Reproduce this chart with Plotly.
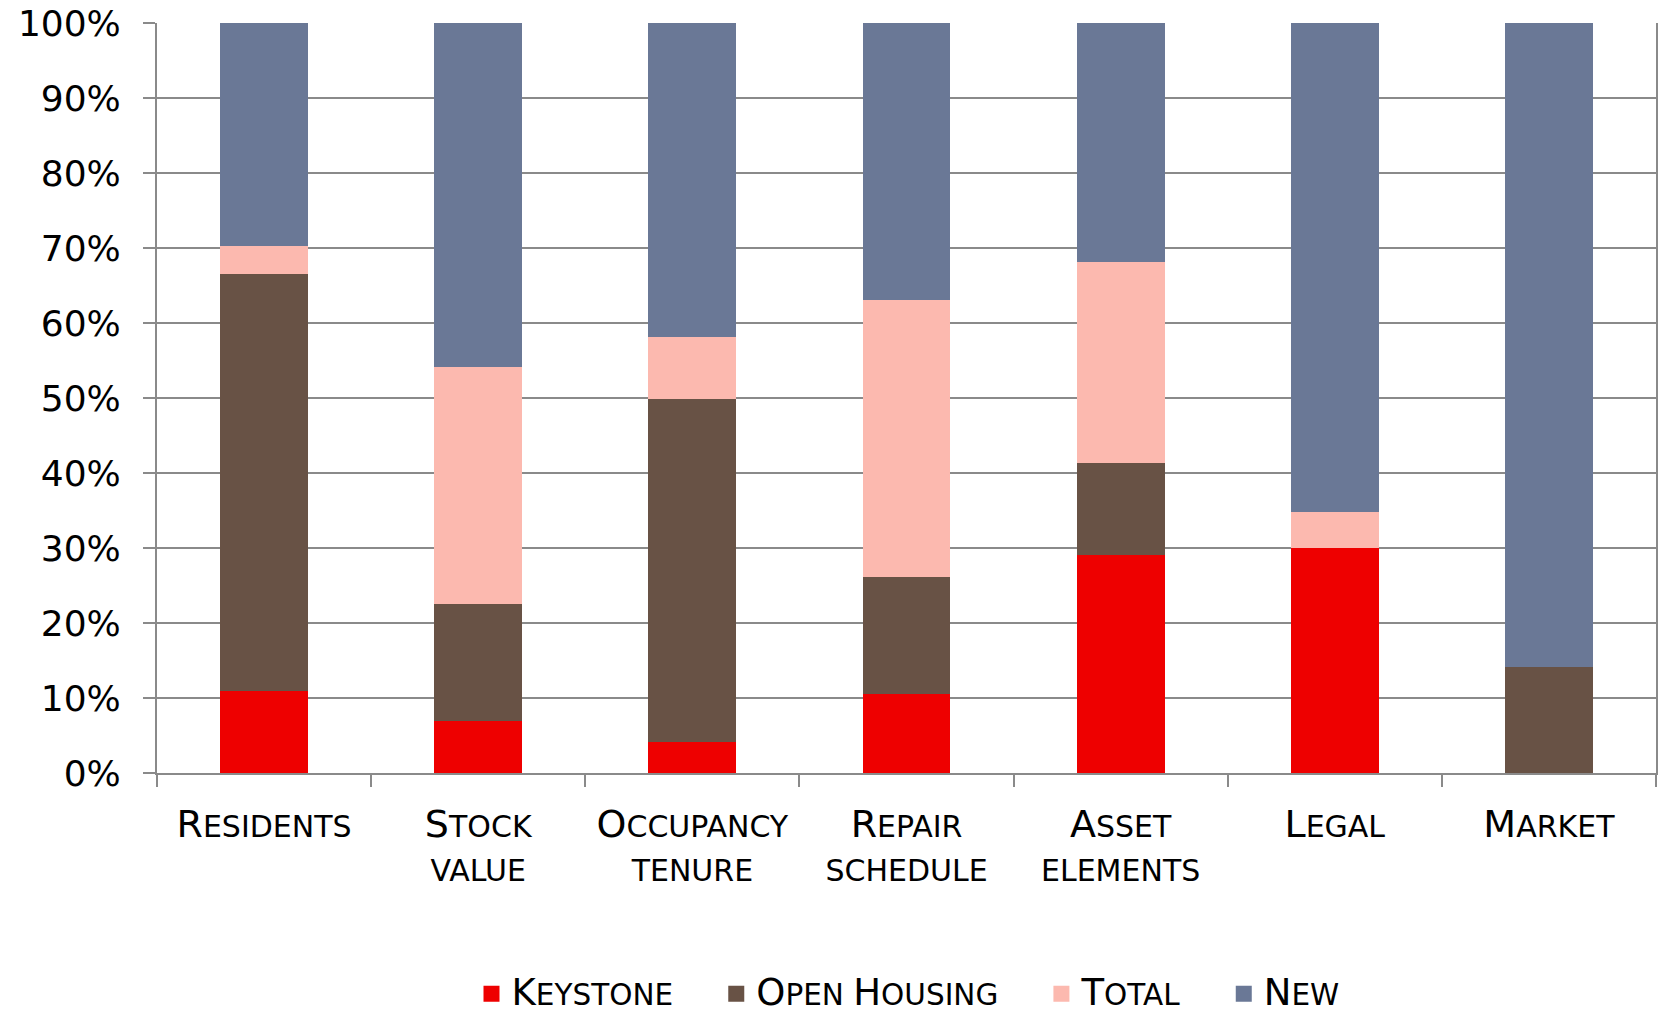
import plotly.graph_objects as go

# ---- data (percent of each category) ----
categories = ["Residents", "Stock value", "Occupancy tenure", "Repair schedule",
              "Asset elements", "Legal", "Market"]
tick_labels = ["Residents", "Stock<br>value", "Occupancy<br>tenure", "Repair<br>schedule",
               "Asset<br>elements", "Legal", "Market"]
series_names = ["Keystone", "Open Housing", "Total", "New"]
keystone = [11.0, 6.9, 4.1, 10.5, 29.1, 30.0, 0.0]
open_housing = [55.5, 15.6, 45.8, 15.7, 12.3, 0.0, 14.2]
total = [3.8, 31.7, 8.3, 36.9, 26.8, 4.8, 0.0]
new = [29.7, 45.8, 41.8, 36.9, 31.8, 65.2, 85.8]
y_tick_values = [0, 10, 20, 30, 40, 50, 60, 70, 80, 90, 100]
y_tick_labels = ["0%", "10%", "20%", "30%", "40%", "50%", "60%", "70%", "80%", "90%", "100%"]

colors = ["#EE0000", "#685245", "#FCB9AF", "#6A7896"]
FONT = "DejaVu Sans"
NBSP = "\u00a0"


def small_caps(text, big, small):
    """Emulate small caps: capitals at `big` px, lowercase as capitals at `small` px."""
    out = []
    for line in text.split("<br>"):
        parts = []
        run = ""
        run_upper = None
        for ch in line:
            is_up = ch.isupper()
            if ch == " ":
                is_up = run_upper if run_upper is not None else False
            if run_upper is None or is_up == run_upper:
                run += ch
                run_upper = is_up
            else:
                parts.append((run, run_upper))
                run, run_upper = ch, is_up
        if run:
            parts.append((run, run_upper))
        s = ""
        for r, up in parts:
            size = big if up else small
            s += f'<span style="font-size:{size}px">{r.upper()}</span>'
        out.append(s)
    return "<br>".join(out)


fig = go.Figure()
values = [keystone, open_housing, total, new]
for name, vals, col in zip(series_names, values, colors):
    fig.add_trace(go.Bar(
        x=categories, y=vals, name=name, marker=dict(color=col, line=dict(width=0)),
        legendgroup=name, showlegend=False,
    ))
for i, (name, col) in enumerate(zip(series_names, colors)):
    label = small_caps(name, 37, 29.5)
    if i < len(series_names) - 1:
        label += f'<span style="font-size:30px">{NBSP * 4}</span>'
    fig.add_trace(go.Scatter(
        x=[None], y=[None], mode="markers", name=label,
        legendgroup=name, showlegend=True,
        marker=dict(symbol="square", size=21, color=col),
    ))

fig.update_layout(
    width=1659, height=1014,
    barmode="stack", bargap=0.59,
    plot_bgcolor="white", paper_bgcolor="white",
    font=dict(family=FONT, color="black"),
    margin=dict(l=157, r=3, t=23, b=241, autoexpand=False),
    legend=dict(
        orientation="h", x=0.501, xanchor="center", y=-0.329, yanchor="bottom",
        font=dict(size=30, family=FONT), itemsizing="trace",
        traceorder="normal", itemclick=False,
    ),
)
fig.update_xaxes(
    tickmode="array", tickvals=categories,
    ticktext=[small_caps(t, 38, 30) for t in tick_labels],
    tickfont=dict(size=34, family=FONT), tickson="boundaries",
    ticks="outside", ticklen=12, tickcolor="#8a8a8a", tickwidth=2,
    ticklabelstandoff=21, automargin=False,
    showline=True, linecolor="#8a8a8a", linewidth=2, showgrid=False,
)
fig.update_yaxes(
    range=[0, 100], tickmode="array", tickvals=y_tick_values, ticktext=y_tick_labels,
    tickfont=dict(size=36, family=FONT), automargin=False,
    ticks="outside", ticklen=12, tickcolor="#8a8a8a", tickwidth=2,
    ticklabelstandoff=15,
    showline=True, linecolor="#8a8a8a", linewidth=2, mirror=True,
    showgrid=True, gridcolor="#8a8a8a", gridwidth=2, zeroline=False,
)

fig.write_html(
    "out.html",
    config={"displayModeBar": False},
    post_script="document.body.style.margin='0';document.body.style.overflow='hidden';",
)
